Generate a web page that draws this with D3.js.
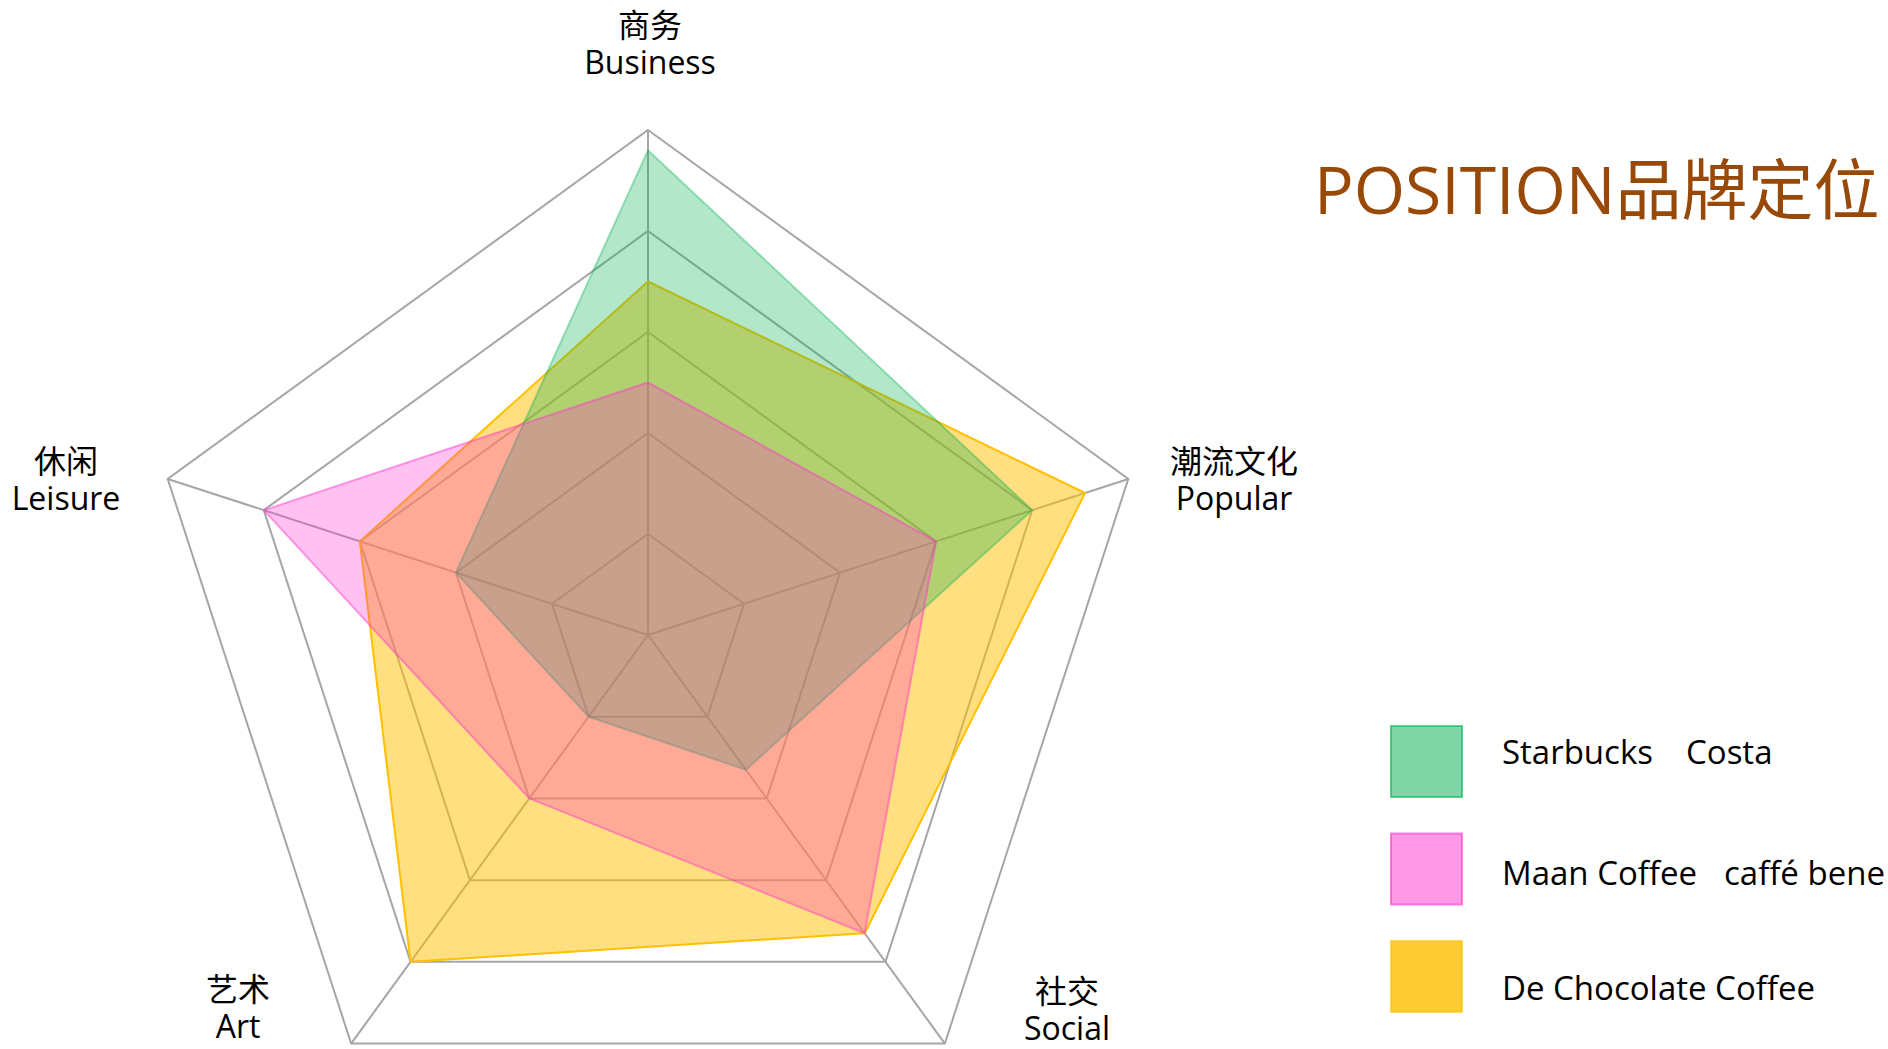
<!DOCTYPE html>
<html>
<head>
<meta charset="utf-8">
<script src="https://cdn.jsdelivr.net/npm/d3@7"></script>
<style>
    body { margin: 0; background: #fff; }
    svg { display: block; font-family: "Open Sans", "Noto Sans CJK SC", sans-serif; }
</style>
</head>
<body>
<div class="container"></div>
<script>
// axes, clockwise from the top
const axesZh = ["商务", "潮流文化", "社交", "艺术", "休闲"];
const axesEn = ["Business", "Popular", "Social", "Art", "Leisure"];

// scores on a 0-5 scale, one per axis
const starbucks = [4.8, 4, 1.65, 1, 2];
const maan = [2.5, 3, 3.65, 2, 4];
const deChocolate = [3.5, 4.55, 3.65, 4, 3];

const gridLevels = [1, 2, 3, 4, 5];

// legend rows
const legendNames = [["Starbucks", "Costa"], ["Maan Coffee", "caffé bene"], ["De Chocolate Coffee"]];

const titleText = "POSITION品牌定位";

const svgWidth = 1888, svgHeight = 1049;
const cx = 648, cy = 635, radius = 505;

const svg = d3.select(".container")
    .append("svg")
    .attr("width", svgWidth)
    .attr("height", svgHeight);

const r = d3.scaleLinear().domain([0, 5]).range([0, radius]);
const angle = d3.scaleLinear().domain([0, axesEn.length]).range([0, 2 * Math.PI]);

const chartGroup = svg.append("g")
    .attr("transform", `translate(${cx}, ${cy})`);

// grid rings
const ring = d3.lineRadial()
    .angle((d, i) => angle(i))
    .radius(d => r(d))
    .curve(d3.curveLinearClosed);

chartGroup.selectAll(".ring")
    .data(gridLevels)
    .enter()
    .append("path")
    .attr("class", "ring")
    .attr("d", lvl => ring(axesEn.map(() => lvl)))
    .attr("fill", "none")
    .attr("stroke", "#a6a6a6")
    .attr("stroke-width", 2);

// spokes
chartGroup.selectAll(".spoke")
    .data(axesEn)
    .enter()
    .append("line")
    .attr("class", "spoke")
    .attr("x1", 0)
    .attr("y1", 0)
    .attr("x2", (d, i) => r(5) * Math.sin(angle(i)))
    .attr("y2", (d, i) => -r(5) * Math.cos(angle(i)))
    .attr("stroke", "#a6a6a6")
    .attr("stroke-width", 2);

// series, drawn bottom to top
const series = [
    { values: deChocolate, color: "#ffc000", fillOpacity: 0.5, strokeOpacity: 1, legendOpacity: 0.8, legendRow: 2 },
    { values: starbucks, color: "#00b050", fillOpacity: 0.3, strokeOpacity: 0.35, legendOpacity: 0.5, legendRow: 0 },
    { values: maan, color: "#ff33cc", fillOpacity: 0.3, strokeOpacity: 0.45, legendOpacity: 0.5, legendRow: 1 }
];

chartGroup.selectAll(".series")
    .data(series)
    .enter()
    .append("path")
    .attr("class", "series")
    .attr("d", s => ring(s.values))
    .attr("fill", s => s.color)
    .attr("fill-opacity", s => s.fillOpacity)
    .attr("stroke", s => s.color)
    .attr("stroke-opacity", s => s.strokeOpacity)
    .attr("stroke-width", 2)
    .attr("stroke-linejoin", "round");

// axis labels
const labelPos = [
    { x: 650, y: 37 },
    { x: 1234, y: 473 },
    { x: 1067, y: 1003 },
    { x: 238, y: 1001 },
    { x: 66, y: 473 }
];

const labels = svg.selectAll(".axisLabel")
    .data(axesEn)
    .enter()
    .append("text")
    .attr("class", "axisLabel")
    .attr("text-anchor", "middle")
    .attr("font-size", 32)
    .attr("fill", "#000");

labels.append("tspan")
    .attr("x", (d, i) => labelPos[i].x)
    .attr("y", (d, i) => labelPos[i].y)
    .text((d, i) => axesZh[i]);

labels.append("tspan")
    .attr("x", (d, i) => labelPos[i].x)
    .attr("y", (d, i) => labelPos[i].y + 37)
    .text(d => d);

// title
svg.append("text")
    .attr("x", 1314)
    .attr("y", 214)
    .attr("font-size", 66)
    .attr("fill", "#984807")
    .text(titleText);

// legend
const legend = svg.append("g").attr("class", "legend");
const boxY = d3.scaleLinear().domain([0, 2]).range([725, 940]);
const textY = [752, 873, 988];
const nameX = [[1502, 1686], [1502, 1724], [1502]];

const legendRows = legend.selectAll("g")
    .data(series)
    .enter()
    .append("g");

legendRows.append("rect")
    .attr("x", 1391)
    .attr("y", s => boxY(s.legendRow) + 1)
    .attr("width", 71)
    .attr("height", 71)
    .attr("fill", s => d3.color(s.color).copy({ opacity: s.legendOpacity }))
    .attr("stroke", s => s.color)
    .attr("stroke-opacity", 0.6)
    .attr("stroke-width", 2);

legendRows.each(function(s) {
    const row = d3.select(this);
    legendNames[s.legendRow].forEach((name, j) => {
        row.append("text")
            .attr("x", nameX[s.legendRow][j])
            .attr("y", textY[s.legendRow])
            .attr("dy", "0.35em")
            .attr("font-size", 33)
            .attr("fill", "#000")
            .text(name);
    });
});
</script>
</body>
</html>
